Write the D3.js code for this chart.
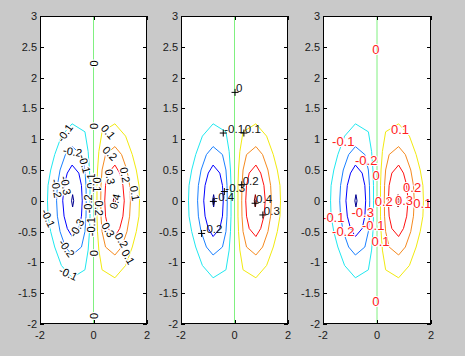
<!DOCTYPE html>
<html><head><meta charset="utf-8">
<script src="https://cdn.jsdelivr.net/npm/d3@7"></script>
<style>html,body{margin:0;padding:0;background:#c9c9c9;}svg{display:block}</style>
</head><body><svg id="c" width="465" height="356"></svg>
<script>
// ---------- data ----------
const xTicks = [-2, 0, 2];
const xTickLabels = ["-2", "0", "2"];
const yTicks = [-2, -1.5, -1, -0.5, 0, 0.5, 1, 1.5, 2, 2.5, 3];
const yTickLabels = ["-2", "-1.5", "-1", "-0.5", "0", "0.5", "1", "1.5", "2", "2.5", "3"];
const levels = [-0.4, -0.3, -0.2, -0.1, 0, 0.1, 0.2, 0.3, 0.4];
const levelColors = ["#000090", "#0000ff", "#1a80ff", "#20e8f0", "#80f080", "#f2ea10", "#f58a20", "#ff1010", "#900000"];

// contour polylines (x, y in data units)
const contourNeg04 = [[-0.78,0.1],[-0.74,0],[-0.78,-0.1],[-0.82,0]];
const contourNeg03 = [[-0.8,0.58],[-0.55,0.45],[-0.45,0.25],[-0.42,0],[-0.45,-0.25],[-0.55,-0.45],[-0.8,-0.58],[-0.98,-0.45],[-1.1,-0.25],[-1.15,0],[-1.1,0.25],[-0.98,0.45]];
const contourNeg02 = [[-0.8,0.88],[-0.45,0.75],[-0.32,0.5],[-0.28,0.25],[-0.27,0],[-0.28,-0.25],[-0.32,-0.5],[-0.45,-0.75],[-0.8,-0.88],[-1.05,-0.75],[-1.25,-0.5],[-1.35,-0.25],[-1.38,0],[-1.35,0.25],[-1.25,0.5],[-1.05,0.75]];
const contourNeg01 = [[-0.8,1.25],[-0.32,1.12],[-0.2,0.8],[-0.15,0.5],[-0.13,0.25],[-0.13,0],[-0.13,-0.25],[-0.15,-0.5],[-0.2,-0.8],[-0.32,-1.12],[-0.8,-1.25],[-1.2,-1.05],[-1.45,-0.75],[-1.6,-0.5],[-1.7,-0.25],[-1.72,0],[-1.7,0.25],[-1.6,0.5],[-1.45,0.75],[-1.2,1.05]];
const contourZero = [[0,-2],[0,3]];
const contourPos01 = [[0.8,1.25],[1.2,1.05],[1.45,0.75],[1.6,0.5],[1.7,0.25],[1.72,0],[1.7,-0.25],[1.6,-0.5],[1.45,-0.75],[1.2,-1.05],[0.8,-1.25],[0.32,-1.12],[0.2,-0.8],[0.15,-0.5],[0.13,-0.25],[0.13,0],[0.13,0.25],[0.15,0.5],[0.2,0.8],[0.32,1.12]];
const contourPos02 = [[0.8,0.88],[1.05,0.75],[1.25,0.5],[1.35,0.25],[1.38,0],[1.35,-0.25],[1.25,-0.5],[1.05,-0.75],[0.8,-0.88],[0.45,-0.75],[0.32,-0.5],[0.28,-0.25],[0.27,0],[0.28,0.25],[0.32,0.5],[0.45,0.75]];
const contourPos03 = [[0.8,0.58],[0.98,0.45],[1.1,0.25],[1.15,0],[1.1,-0.25],[0.98,-0.45],[0.8,-0.58],[0.55,-0.45],[0.45,-0.25],[0.42,0],[0.45,0.25],[0.55,0.45]];
const contourPos04 = [[0.78,0.1],[0.82,0],[0.78,-0.1],[0.74,0]];

// labels: panel 1 inline rotated [text, x, y, rotation]
const labels1 = [
  ["0",0,2.23,-90],["0",0,1.21,-90],["0",0,-1.87,-90],["0",0,-0.85,-90],
  ["-0.1",-1.07,1.1,-55],["-0.2",-0.78,0.8,10],["-0.1",-0.33,0.6,75],
  ["0.1",0.55,1.12,50],["0.2",0.62,0.77,45],
  ["-0.2",-1.38,0.2,80],["-0.3",-1.03,0.25,80],["-0.1",-1.69,-0.28,65],
  ["0.1",-0.1,0.32,-90],["0.1",0.12,0.26,90],["-0.2",-0.22,-0.05,-90],["0.2",0.2,-0.12,90],
  ["-0.1",-0.08,-0.42,-90],
  ["0.3",0.62,0.39,80],["0.2",1.18,0.42,80],["0.1",1.55,0.12,80],["0.4",0.8,-0.01,-75],
  ["0.3",0.55,-0.47,60],["0.2",1.05,-0.64,60],["0.1",1.3,-0.91,60],
  ["-0.3",-0.63,-0.44,-60],["-0.2",-1.0,-0.77,55],["-0.1",-0.94,-1.18,25]
];
// panel 2: '+' markers with labels [text, x, y]
const labels2 = [
  ["0",0.02,1.76],["-0.1",-0.42,1.1],["0.1",0.35,1.1],["-0.3",-0.38,0.15],
  ["-0.4",-0.79,-0.01],["-0.2",-1.23,-0.53],["0.2",0.27,0.26],["0.4",0.77,-0.04],["0.3",1.06,-0.23]
];
// panel 3: red labels [text, x, y]
const labels3 = [
  ["0",-0.04,2.46],["0",-0.04,-1.64],["-0.1",-1.25,0.96],["0.1",0.85,1.16],
  ["-0.2",-0.4,0.66],["0",-0.03,0.41],["0.2",1.3,0.21],["0.2",0.25,-0.01],
  ["0.3",1.0,0.0],["0.1",1.68,-0.05],["-0.1",-1.62,-0.27],["-0.2",-1.25,-0.5],
  ["-0.3",-0.53,-0.19],["-0.1",-0.14,-0.4],["0.1",0.13,-0.66]
];

// ---------- drawing ----------
const contours = [
  {level:-0.4, pts:contourNeg04, closed:true},
  {level:-0.3, pts:contourNeg03, closed:true},
  {level:-0.2, pts:contourNeg02, closed:true},
  {level:-0.1, pts:contourNeg01, closed:true},
  {level:0, pts:contourZero, closed:false},
  {level:0.1, pts:contourPos01, closed:true},
  {level:0.2, pts:contourPos02, closed:true},
  {level:0.3, pts:contourPos03, closed:true},
  {level:0.4, pts:contourPos04, closed:true}
];
const colorScale = d3.scaleOrdinal().domain(levels).range(levelColors);
const svg = d3.select("#c");
const topY = 16, bottomY = 324;
const panels = [{x0:40,x1:147},{x0:181,x1:288},{x0:323,x1:431}];
const font = "'Liberation Sans', Arial, sans-serif";

panels.forEach((p, i) => {
  const x = d3.scaleLinear().domain([-2, 2]).range([p.x0, p.x1]);
  const y = d3.scaleLinear().domain([-2, 3]).range([bottomY, topY]);
  const g = svg.append("g");
  const cid = "clip" + i;
  g.append("clipPath").attr("id", cid).append("rect")
    .attr("x", p.x0).attr("y", topY).attr("width", p.x1 - p.x0).attr("height", bottomY - topY);
  g.append("rect").attr("x", p.x0).attr("y", topY).attr("width", p.x1 - p.x0)
    .attr("height", bottomY - topY).attr("fill", "#fff");
  const cg = g.append("g").attr("clip-path", `url(#${cid})`);
  const lineOpen = d3.line().x(d => x(d[0])).y(d => y(d[1]));
  const lineClosed = d3.line().x(d => x(d[0])).y(d => y(d[1])).curve(d3.curveLinearClosed);
  cg.selectAll("path.ct").data(contours).join("path")
    .attr("d", d => (d.closed ? lineClosed : lineOpen)(d.pts))
    .attr("fill", "none").attr("stroke", d => colorScale(d.level)).attr("stroke-width", 1);

  if (i === 0) {
    cg.selectAll("text.l").data(labels1).join("text")
      .attr("transform", d => `translate(${x(d[1])},${y(d[2])}) rotate(${d[3]})`)
      .attr("text-anchor", "middle").attr("dominant-baseline", "central")
      .attr("font-family", font).attr("font-size", 11).attr("fill", "#000")
      .attr("stroke", "#fff").attr("stroke-width", 2.5).attr("paint-order", "stroke")
      .text(d => d[0]);
  } else if (i === 1) {
    const mk = cg.selectAll("g.m").data(labels2).join("g")
      .attr("transform", d => `translate(${x(d[1])},${y(d[2])})`);
    mk.append("path").attr("d", "M-3.5,0H3.5M0,-3.5V3.5").attr("stroke", "#000").attr("stroke-width", 1);
    mk.append("text").attr("x", 1).attr("y", 0)
      .attr("font-family", font).attr("font-size", 11.5).attr("fill", "#111")
      .text(d => d[0]);
  } else {
    cg.selectAll("text.l").data(labels3).join("text")
      .attr("x", d => x(d[1])).attr("y", d => y(d[2]))
      .attr("text-anchor", "middle").attr("dominant-baseline", "central")
      .attr("font-family", font).attr("font-size", 13).attr("fill", "#ff2020")
      .attr("stroke", "#fff").attr("stroke-width", 2).attr("paint-order", "stroke")
      .text(d => d[0]);
  }

  // frame and inner ticks
  const ax = g.append("g");
  ax.append("rect").attr("x", p.x0 + 0.5).attr("y", topY + 0.5)
    .attr("width", p.x1 - p.x0 - 1).attr("height", bottomY - topY - 1)
    .attr("fill", "none").attr("stroke", "#000").attr("stroke-width", 1);
  ax.selectAll("path.yt").data(yTicks).join("path")
    .attr("d", d => `M${p.x0},${Math.round(y(d)) + 0.5}h4M${p.x1},${Math.round(y(d)) + 0.5}h-4`)
    .attr("stroke", "#000").attr("stroke-width", 1);
  ax.selectAll("path.xt").data(xTicks).join("path")
    .attr("d", d => `M${Math.round(x(d)) + 0.5},${bottomY}v-4M${Math.round(x(d)) + 0.5},${topY}v4`)
    .attr("stroke", "#000").attr("stroke-width", 1);
  ax.selectAll("text.yl").data(yTicks).join("text")
    .attr("x", p.x0 - 3).attr("y", d => y(d))
    .attr("text-anchor", "end").attr("dominant-baseline", "central")
    .attr("font-family", font).attr("font-size", 11).attr("fill", "#1a1a1a")
    .text((d, k) => yTickLabels[k]);
  ax.selectAll("text.xl").data(xTicks).join("text")
    .attr("x", d => x(d)).attr("y", bottomY + 11)
    .attr("text-anchor", "middle").attr("dominant-baseline", "central")
    .attr("font-family", font).attr("font-size", 11).attr("fill", "#1a1a1a")
    .text((d, k) => xTickLabels[k]);
});
</script>
</body></html>
